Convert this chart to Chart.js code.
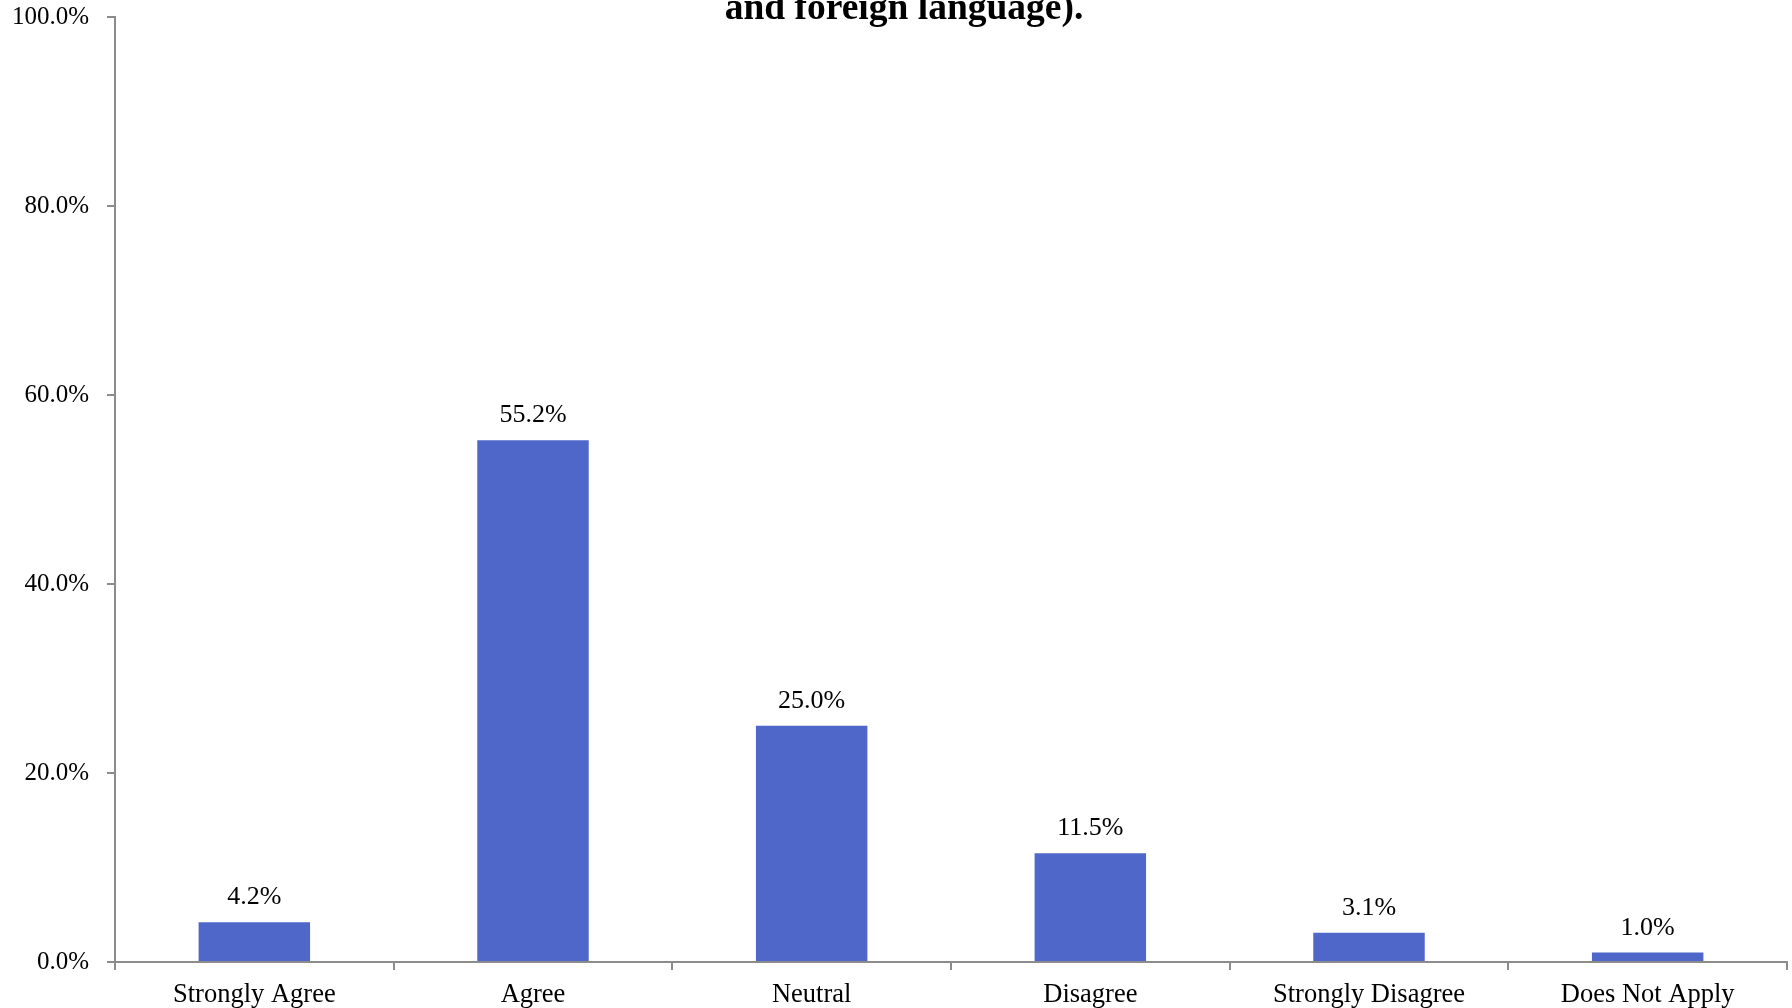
<!DOCTYPE html>
<html>
<head>
<meta charset="utf-8">
<script src="https://cdn.jsdelivr.net/npm/chart.js@4.4.1/dist/chart.umd.min.js"></script>
<style>
    html, body { margin: 0; padding: 0; background: #ffffff; }
    #wrap { width: 1792px; height: 1008px; position: relative; }
</style>
</head>
<body>
<div id="wrap"><canvas id="responseChart"></canvas></div>
<script>
const categories = ['Strongly Agree', 'Agree', 'Neutral', 'Disagree', 'Strongly Disagree', 'Does Not Apply'];
const percentValues = [4.2, 55.2, 25.0, 11.5, 3.1, 1.0];
const yTicks = [0, 20, 40, 60, 80, 100];
const titleText = 'and foreign language).';

const chartConfig = {
    fontFamily: '"Liberation Serif", "Times New Roman", serif',
    fontColor: '#000000',
    axisColor: '#8c8c8c',
    barColor: '#4f67c8'
};

// title is partly cut off at the top in the original, so it is drawn by hand
const titlePlugin = {
    id: 'croppedTitle',
    afterDraw(chart) {
        const ctx = chart.ctx;
        ctx.save();
        ctx.font = 'bold 37.5px ' + chartConfig.fontFamily;
        ctx.fillStyle = chartConfig.fontColor;
        ctx.textAlign = 'center';
        ctx.textBaseline = 'alphabetic';
        ctx.fillText(titleText, chart.width / 2 + 8, 19);
        ctx.restore();
    }
};

const valueLabels = {
    id: 'valueLabels',
    afterDatasetsDraw(chart) {
        const ctx = chart.ctx;
        const meta = chart.getDatasetMeta(0);
        ctx.save();
        ctx.font = '26px ' + chartConfig.fontFamily;
        ctx.fillStyle = chartConfig.fontColor;
        ctx.textAlign = 'center';
        ctx.textBaseline = 'alphabetic';
        meta.data.forEach(function (bar, i) {
            ctx.fillText(percentValues[i].toFixed(1) + '%', bar.x, bar.y - 18);
        });
        ctx.restore();
    }
};

new Chart(document.getElementById('responseChart'), {
    type: 'bar',
    data: {
        labels: categories,
        datasets: [{
            data: percentValues,
            backgroundColor: chartConfig.barColor,
            borderWidth: 0,
            categoryPercentage: 1.0,
            barPercentage: 0.4
        }]
    },
    options: {
        responsive: true,
        maintainAspectRatio: false,
        animation: false,
        layout: {
            padding: { top: 17, right: 5, left: 0, bottom: 0 }
        },
        scales: {
            x: {
                grid: {
                    offset: true,
                    drawOnChartArea: false,
                    drawTicks: true,
                    tickLength: 8,
                    color: chartConfig.axisColor,
                    lineWidth: 2
                },
                border: { color: chartConfig.axisColor, width: 2 },
                ticks: {
                    color: chartConfig.fontColor,
                    padding: 9,
                    maxRotation: 0,
                    autoSkip: false,
                    font: { family: chartConfig.fontFamily, size: 26.5 }
                },
                afterFit(scale) { scale.height = 46; }
            },
            y: {
                min: 0,
                max: 100,
                afterBuildTicks(scale) {
                    scale.ticks = yTicks.map(v => ({ value: v }));
                },
                grid: {
                    drawOnChartArea: false,
                    drawTicks: true,
                    tickLength: 8,
                    color: chartConfig.axisColor,
                    lineWidth: 2
                },
                border: { color: chartConfig.axisColor, width: 2 },
                ticks: {
                    color: chartConfig.fontColor,
                    padding: 18,
                    font: { family: chartConfig.fontFamily, size: 25 },
                    callback: function (value) {
                        return value.toFixed(1) + '%';
                    }
                },
                afterFit(scale) {
                    scale.width = 115;
                    scale.paddingTop = 0;
                }
            }
        },
        plugins: {
            legend: { display: false },
            title: { display: false },
            tooltip: { enabled: false }
        }
    },
    plugins: [valueLabels, titlePlugin]
});
</script>
</body>
</html>
